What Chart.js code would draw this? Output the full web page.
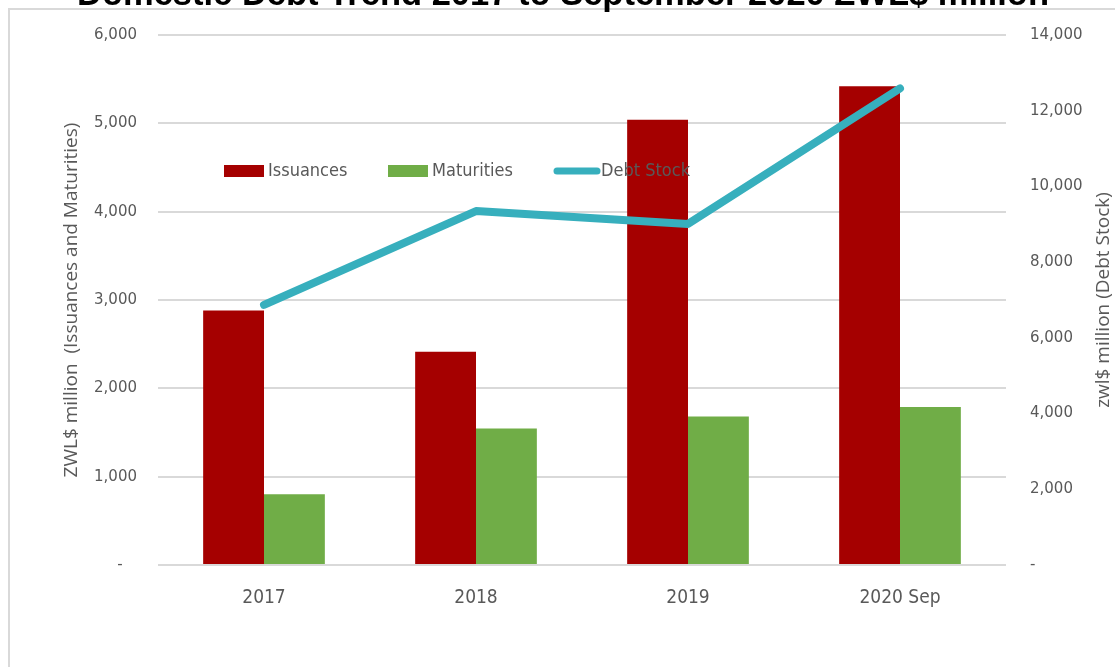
<!DOCTYPE html>
<html>
<head>
    <title>Domestic Debt Trend 2017 to September 2020 ZWL$ million</title>
    <script src="https://cdn.jsdelivr.net/npm/chart.js"></script>
    <style>
        body {
            margin: 0;
            background-color: #fff;
            overflow: hidden;
        }
        #frame {
            position: absolute;
            left: 8px;
            top: 8px;
            width: 1200px;
            height: 800px;
            border: 2px solid #d9d9d9;
        }
        #wrap {
            position: absolute;
            left: 0;
            top: 0;
            width: 1115px;
            height: 667px;
        }
    </style>
</head>
<body>
    <div id="frame"></div>
    <div id="wrap"><canvas id="debtChart"></canvas></div>

    <script>
        // data
        var years = ['2017', '2018', '2019', '2020 Sep'];
        var issuances = [2880, 2415, 5040, 5420];
        var maturities = [800, 1545, 1680, 1790];
        var debtStock = [6870, 9350, 9010, 12590];

        var chartTitle = 'Domestic Debt Trend 2017 to September 2020 ZWL$ million';
        var leftTitle = 'ZWL$ million  (Issuances and Maturities)';
        var rightTitle = 'zwl$ million (Debt Stock)';

        var grey = '#595959';
        var narrow = '"Liberation Sans Narrow", "DejaVu Sans Condensed", sans-serif';

        function fmt(v, dash) {
            if (v === 0) return dash;
            return v.toLocaleString('en-US');
        }

        // title (cut by the top edge), axis titles and the in-plot legend
        var decorations = {
            id: 'decorations',
            afterDraw: function(chart) {
                var ctx = chart.ctx;
                var area = chart.chartArea;
                ctx.save();

                ctx.fillStyle = '#000';
                ctx.font = 'bold 34.5px "Liberation Sans", Arial, sans-serif';
                ctx.textAlign = 'center';
                ctx.textBaseline = 'alphabetic';
                ctx.fillText(chartTitle, 563, 5);

                ctx.fillStyle = grey;
                ctx.font = '19px "Open Sans", sans-serif';
                ctx.textBaseline = 'middle';
                var midY = (area.top + area.bottom) / 2;
                ctx.save();
                ctx.translate(72, midY);
                ctx.rotate(-Math.PI / 2);
                ctx.fillText(leftTitle, 0, 0);
                ctx.restore();
                ctx.save();
                ctx.translate(1104, midY);
                ctx.rotate(-Math.PI / 2);
                ctx.fillText(rightTitle, 0, 0);
                ctx.restore();

                // legend
                var ds = chart.data.datasets;
                var items = [
                    { d: ds[1], x: 224 },
                    { d: ds[2], x: 388 },
                    { d: ds[0], x: 554 }
                ];
                var ly = 171;
                ctx.font = '18px ' + narrow;
                ctx.textAlign = 'left';
                items.forEach(function(it) {
                    if (it.d.type === 'line') {
                        ctx.strokeStyle = it.d.borderColor;
                        ctx.lineWidth = 7;
                        ctx.lineCap = 'round';
                        ctx.beginPath();
                        ctx.moveTo(it.x + 3, ly);
                        ctx.lineTo(it.x + 43, ly);
                        ctx.stroke();
                        ctx.fillStyle = grey;
                        ctx.fillText(it.d.label, it.x + 47, ly);
                    } else {
                        ctx.fillStyle = it.d.backgroundColor;
                        ctx.fillRect(it.x, ly - 6, 40, 12);
                        ctx.fillStyle = grey;
                        ctx.fillText(it.d.label, it.x + 44, ly);
                    }
                });
                ctx.restore();
            }
        };

        var ctx = document.getElementById('debtChart').getContext('2d');
        var debtChart = new Chart(ctx, {
            type: 'bar',
            data: {
                labels: years,
                datasets: [{
                    type: 'line',
                    label: 'Debt Stock',
                    data: debtStock,
                    yAxisID: 'y1',
                    borderColor: '#37afbd',
                    borderWidth: 8,
                    borderCapStyle: 'round',
                    borderJoinStyle: 'round',
                    pointRadius: 0,
                    tension: 0,
                    order: 0
                }, {
                    label: 'Issuances',
                    data: issuances,
                    yAxisID: 'y',
                    backgroundColor: '#a50000',
                    order: 1
                }, {
                    label: 'Maturities',
                    data: maturities,
                    yAxisID: 'y',
                    backgroundColor: '#70ad47',
                    order: 1
                }]
            },
            options: {
                responsive: true,
                maintainAspectRatio: false,
                animation: false,
                datasets: {
                    bar: {
                        barPercentage: 1,
                        categoryPercentage: 0.574
                    }
                },
                layout: {
                    padding: { top: 35, left: 0, right: 0, bottom: 0 }
                },
                plugins: {
                    legend: { display: false },
                    title: { display: false },
                    tooltip: { enabled: false }
                },
                scales: {
                    x: {
                        grid: { display: false },
                        border: { display: false },
                        ticks: {
                            color: grey,
                            padding: 14,
                            font: { family: narrow, size: 19 }
                        },
                        afterFit: function(scale) { scale.height = 102; }
                    },
                    y: {
                        position: 'left',
                        min: 0,
                        max: 6000,
                        grid: { color: '#d9d9d9', lineWidth: 2, drawTicks: false },
                        border: { display: false },
                        ticks: {
                            stepSize: 1000,
                            color: grey,
                            padding: 21,
                            font: { family: '"DejaVu Sans", sans-serif', size: 15 },
                            callback: function(v) { return fmt(v, '-   '); }
                        },
                        afterFit: function(scale) { scale.width = 158; }
                    },
                    y1: {
                        position: 'right',
                        min: 0,
                        max: 14000,
                        grid: { display: false, drawTicks: false },
                        border: { display: false },
                        ticks: {
                            stepSize: 2000,
                            color: grey,
                            padding: 24,
                            font: { family: '"DejaVu Sans", sans-serif', size: 15 },
                            callback: function(v) { return fmt(v, '-'); }
                        },
                        afterFit: function(scale) { scale.width = 109; }
                    }
                }
            },
            plugins: [decorations]
        });
    </script>
</body>
</html>
